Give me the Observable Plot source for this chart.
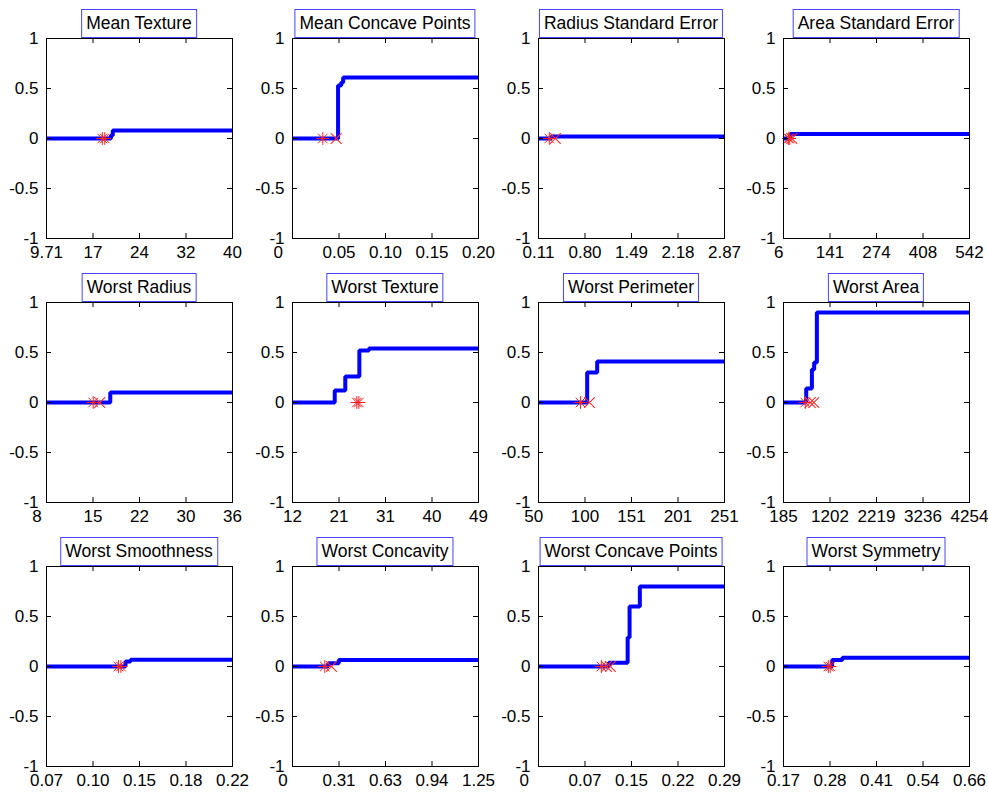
<!DOCTYPE html>
<html>
<head>
<meta charset="utf-8">
<script src="https://cdn.jsdelivr.net/npm/d3@7"></script>
<script src="https://cdn.jsdelivr.net/npm/@observablehq/plot@0.6"></script>
<style>
  body { margin: 0; background: #fff; }
  #chart { position: relative; width: 988px; height: 792px; background: #fff; font-family: "Liberation Sans", Arial, sans-serif; }
  .panel { position: absolute; }
  .title { position: absolute; border: 1px solid #4646ff; background: #fff; font-size: 17.5px; line-height: 27px; padding: 0 4px; white-space: nowrap; transform: translateX(-50%); color: #000; }
</style>
</head>
<body>
<div id="chart"></div>
<script>
// ---------- data ----------
const titles = ["Mean Texture", "Mean Concave Points", "Radius Standard Error", "Area Standard Error",
  "Worst Radius", "Worst Texture", "Worst Perimeter", "Worst Area",
  "Worst Smoothness", "Worst Concavity", "Worst Concave Points", "Worst Symmetry"];

const xDomains = [[9.71, 40], [0, 0.20], [0.11, 2.87], [6, 542],
  [8, 36], [12, 49], [50, 251], [185, 4254],
  [0.07, 0.22], [0, 1.25], [0, 0.29], [0.17, 0.66]];

// tick labels (left-justified short labels carry figure-space padding, as in the source)
const xTickLabels = [
  ["9.71", "17", "24", "32", "40"],
  ["0\u2007\u2007\u2007", "0.05", "0.10", "0.15", "0.20"],
  ["0.11", "0.80", "1.49", "2.18", "2.87"],
  ["6\u2007", "141", "274", "408", "542"],
  ["8\u2007\u2007", "15", "22", "30", "36"],
  ["12", "21", "31", "40", "49"],
  ["50\u2007", "100", "151", "201", "251"],
  ["185", "1202", "2219", "3236", "4254"],
  ["0.07", "0.10", "0.15", "0.18", "0.22"],
  ["0\u2007\u2007", "0.31", "0.63", "0.94", "1.25"],
  ["0\u2007\u2007\u2007", "0.07", "0.15", "0.22", "0.29"],
  ["0.17", "0.28", "0.41", "0.54", "0.66"]
];

const yTicks = [-1, -0.5, 0, 0.5, 1];
const yTickLabels = ["-1", "-0.5", "0", "0.5", "1"];

const stepX = [
  [9.71, 20.2, 20.5, 40],
  [0, 0.049, 0.0524, 0.0545, 0.20],
  [0.11, 0.30, 2.87],
  [6, 26, 542],
  [8, 17.6, 36],
  [12, 20.4, 22.5, 25.3, 27.2, 49],
  [50, 102.6, 113.4, 251],
  [185, 682, 806, 856, 915, 4254],
  [0.07, 0.1337, 0.1378, 0.22],
  [0, 0.24, 0.311, 1.25],
  [0, 0.1096, 0.139, 0.142, 0.158, 0.29],
  [0.17, 0.298, 0.325, 0.66]
];
const stepY = [
  [0, 0.03, 0.08, 0.08],
  [0, 0.53, 0.56, 0.61, 0.61],
  [0, 0.02, 0.02],
  [0, 0.045, 0.045],
  [0, 0.10, 0.10],
  [0, 0.12, 0.26, 0.52, 0.54, 0.54],
  [0, 0.30, 0.41, 0.41],
  [0, 0.14, 0.33, 0.40, 0.90, 0.90],
  [0, 0.05, 0.068, 0.068],
  [0, 0.033, 0.065, 0.065],
  [0, 0.037, 0.29, 0.60, 0.80, 0.80],
  [0, 0.065, 0.088, 0.088]
];

const starX = [
  [18.8, 19.2], [0.0326], [0.27], [20, 24],
  [15.03], [24.8, 25.2], [95.4], [660],
  [0.128, 0.130], [0.217], [0.098], [0.288, 0.293]
];
const crossX = [
  [], [0.047], [0.36], [30],
  [16.02], [], [105.1], [770, 848],
  [], [0.262], [0.106, 0.112], []
];

// ---------- layout ----------
const W = 186, H = 200;
const colLeft = [46, 292, 538, 783];
const rowTop = [38, 302, 566];
const M = {left: 46, right: 14, top: 38, bottom: 26};
const font = '"Liberation Sans", Arial, sans-serif';
const chart = document.getElementById("chart");

titles.forEach((title, i) => {
  const r = Math.floor(i / 4), c = i % 4;
  const [x0, x1] = xDomains[i];
  const ticks = [0, 1, 2, 3, 4].map(k => x0 + (x1 - x0) * k / 4);
  const labelOf = new Map(ticks.map((t, k) => [t, xTickLabels[i][k]]));
  const yLabelOf = new Map(yTicks.map((t, k) => [t, yTickLabels[k]]));
  const line = stepX[i].map((x, k) => ({x, y: stepY[i][k]}));
  const stars = starX[i].map(x => ({x, y: 0}));
  const crosses = crossX[i].map(x => ({x, y: 0}));

  const plot = Plot.plot({
    width: W + M.left + M.right,
    height: H + M.top + M.bottom,
    marginLeft: M.left, marginRight: M.right, marginTop: M.top, marginBottom: M.bottom,
    style: {fontFamily: font, fontSize: "17px", color: "#000", background: "transparent", overflow: "visible"},
    x: {domain: [x0, x1]},
    y: {domain: [-1, 1]},
    marks: [
      Plot.line(line, {x: "x", y: "y", curve: "step-after", stroke: "#0000ff", strokeWidth: 4,
        strokeLinejoin: "miter", strokeLinecap: "butt", clip: true}),
      Plot.dot(stars, {x: "x", y: "y", symbol: "plus", r: 4.2, stroke: "#ff2020", fill: "none", strokeWidth: 1}),
      Plot.dot(stars, {x: "x", y: "y", symbol: "times", r: 4.4, stroke: "#ff2020", fill: "none", strokeWidth: 1}),
      Plot.dot(crosses, {x: "x", y: "y", symbol: "times", r: 5, stroke: "#ff3030", fill: "none", strokeWidth: 1.1}),
      Plot.frame({stroke: "#000", strokeWidth: 1}),
      Plot.tickY(yTicks, {y: d => d, insetRight: W - 5, stroke: "#000"}),
      Plot.tickY(yTicks, {y: d => d, insetLeft: W - 5, stroke: "#000"}),
      Plot.tickX(ticks, {x: d => d, insetTop: H - 5, stroke: "#000"}),
      Plot.tickX(ticks, {x: d => d, insetBottom: H - 5, stroke: "#000"}),
      Plot.axisY(yTicks, {tickSize: 0, tickPadding: 8, tickFormat: d => yLabelOf.get(d), fontSize: 17, label: null}),
      Plot.axisX(ticks, {tickSize: 0, tickPadding: 7, tickFormat: d => labelOf.get(d), fontSize: 17, label: null})
    ]
  });
  plot.classList.add("panel");
  plot.style.left = (colLeft[c] - M.left) + "px";
  plot.style.top = (rowTop[r] - M.top) + "px";
  chart.appendChild(plot);

  const t = document.createElement("div");
  t.className = "title";
  t.textContent = title;
  t.style.left = (colLeft[c] + W / 2) + "px";
  t.style.top = (rowTop[r] - 29) + "px";
  chart.appendChild(t);
});
</script>
</body>
</html>
